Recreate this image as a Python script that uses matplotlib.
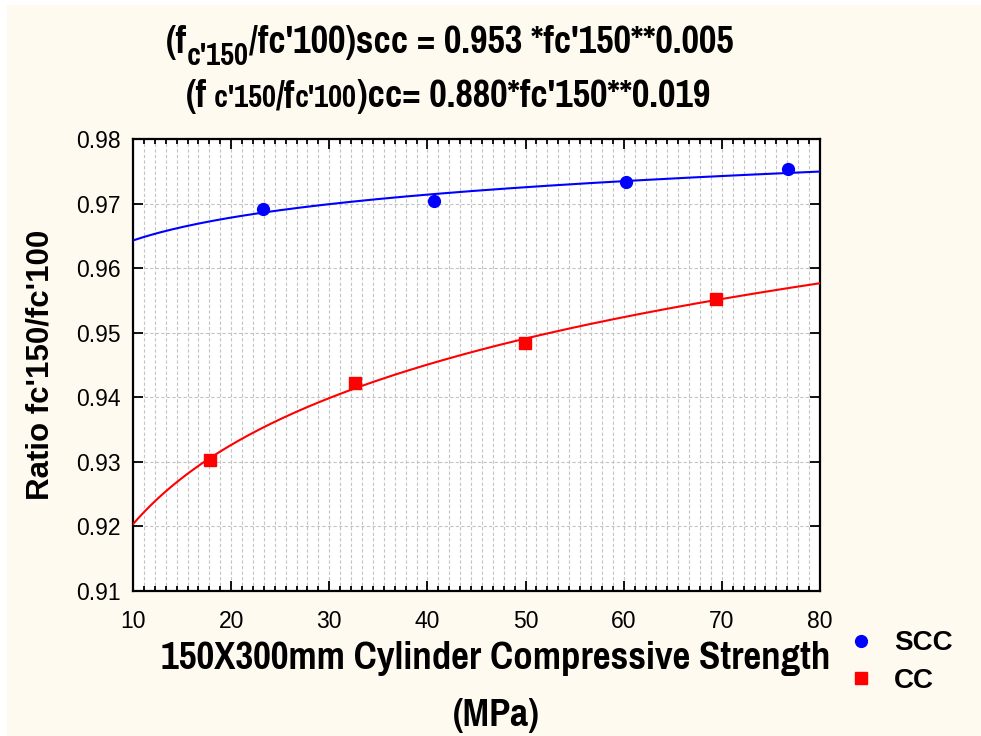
import numpy as np
import matplotlib
matplotlib.use("Agg")
from matplotlib import pyplot as plt
from matplotlib.ticker import MultipleLocator, AutoMinorLocator, FormatStrFormatter
from matplotlib.transforms import IdentityTransform
from matplotlib.patches import Rectangle

# data
scc_x = [23.2, 40.7, 60.2, 76.7]
scc_y = [0.9692, 0.9704, 0.9733, 0.9754]
cc_x = [17.85, 32.6, 49.9, 69.4]
cc_y = [0.9303, 0.9422, 0.9484, 0.9552]
series_names = ["SCC", "CC"]

narrow = ["Pragati Narrow", "PT Sans Narrow", "Archivo Narrow", "Liberation Sans", "DejaVu Sans"]
wide = ["Liberation Sans", "DejaVu Sans"]
cream = "#fffaf0"

W, H = 981, 736
fig = plt.figure(figsize=(W / 100, H / 100), dpi=100, facecolor="white")
# cream panel with thin white border top/left
fig.patches.append(Rectangle((7 / W, 0), 1 - 7 / W, 1 - 5 / H, transform=fig.transFigure,
                             facecolor=cream, edgecolor="none", zorder=-10))

ax = fig.add_axes([133 / W, 1 - 591 / H, (820 - 133) / W, (591 - 139) / H])
ax.set_facecolor("white")

# power-law fits y = a * x**b
xs = np.linspace(10, 80, 300)
for px, py, col in [(scc_x, scc_y, "blue"), (cc_x, cc_y, "red")]:
    b, ln_a = np.polyfit(np.log(px), np.log(py), 1)
    ax.plot(xs, np.exp(ln_a) * xs ** b, color=col, lw=1.5, zorder=3)

h1, = ax.plot(scc_x, scc_y, "o", color="blue", ms=8.5, zorder=4, label=series_names[0])
h2, = ax.plot(cc_x, cc_y, "s", color="red", ms=8.5, zorder=4, label=series_names[1])

ax.set_xlim(10, 80)
ax.set_ylim(0.91, 0.98)
ax.xaxis.set_major_locator(MultipleLocator(10))
ax.xaxis.set_minor_locator(AutoMinorLocator(9))
ax.yaxis.set_major_locator(MultipleLocator(0.01))
ax.yaxis.set_major_formatter(FormatStrFormatter("%.2f"))

ax.grid(True, which="both", axis="x", color="#c4c4c4", lw=0.8, ls=(0, (3, 2)))
ax.grid(True, which="major", axis="y", color="#c4c4c4", lw=0.8, ls=(0, (3, 2)))
ax.tick_params(which="both", direction="in", top=True, right=True, width=1.3)
ax.tick_params(which="major", length=7, labelsize=16.5, pad=9)
ax.tick_params(axis="x", which="major", pad=14)
ax.tick_params(which="minor", length=3.5)
ax.tick_params(axis="y", which="minor", left=False, right=False)
for lab in ax.get_xticklabels() + ax.get_yticklabels():
    lab.set_family(wide)
for sp in ax.spines.values():
    sp.set_linewidth(1.6)

ax.set_ylabel("Ratio fc'150/fc'100", fontsize=22.5, fontweight="bold", family=wide, labelpad=15)

# x label, two lines
fig.text(496 / W, 1 - 669 / H, "150X300mm Cylinder Compressive Strength", ha="center",
         va="baseline", fontsize=30.5, fontweight="bold", family=narrow)
fig.text(496 / W, 1 - 726 / H, "(MPa)", ha="center", va="baseline",
         fontsize=30.5, fontweight="bold", family=narrow)

# title: pieces laid out left to right in pixels
renderer = fig.canvas.get_renderer()


def rich_line(x0, base, pieces):
    x = x0
    for s, size, dy in pieces:
        t = fig.text(x, H - base + dy, s, transform=IdentityTransform(), ha="left",
                     va="baseline", fontsize=size, fontweight="bold", family=narrow)
        x = t.get_window_extent(renderer).x1


rich_line(166, 53, [("(f", 30, 0), ("c'150", 24, -12),
                    ("/fc'100)scc = 0.953 *fc'150**0.005", 30, 0)])
rich_line(186, 107, [("(f", 30, 0), (" c'150", 24, 0), ("/f", 30, 0), ("c'100", 24, 0),
                     (")cc= 0.880*fc'150**0.019", 30, 0)])

fig.legend(handles=[h1, h2], loc="center left", bbox_to_anchor=(819 / W, 1 - 662 / H),
           frameon=False, prop={"family": wide, "weight": "bold", "size": 20},
           handletextpad=0.6, labelspacing=0.4, handlelength=1.2)

plt.savefig("out.png", dpi=100, facecolor="white")
